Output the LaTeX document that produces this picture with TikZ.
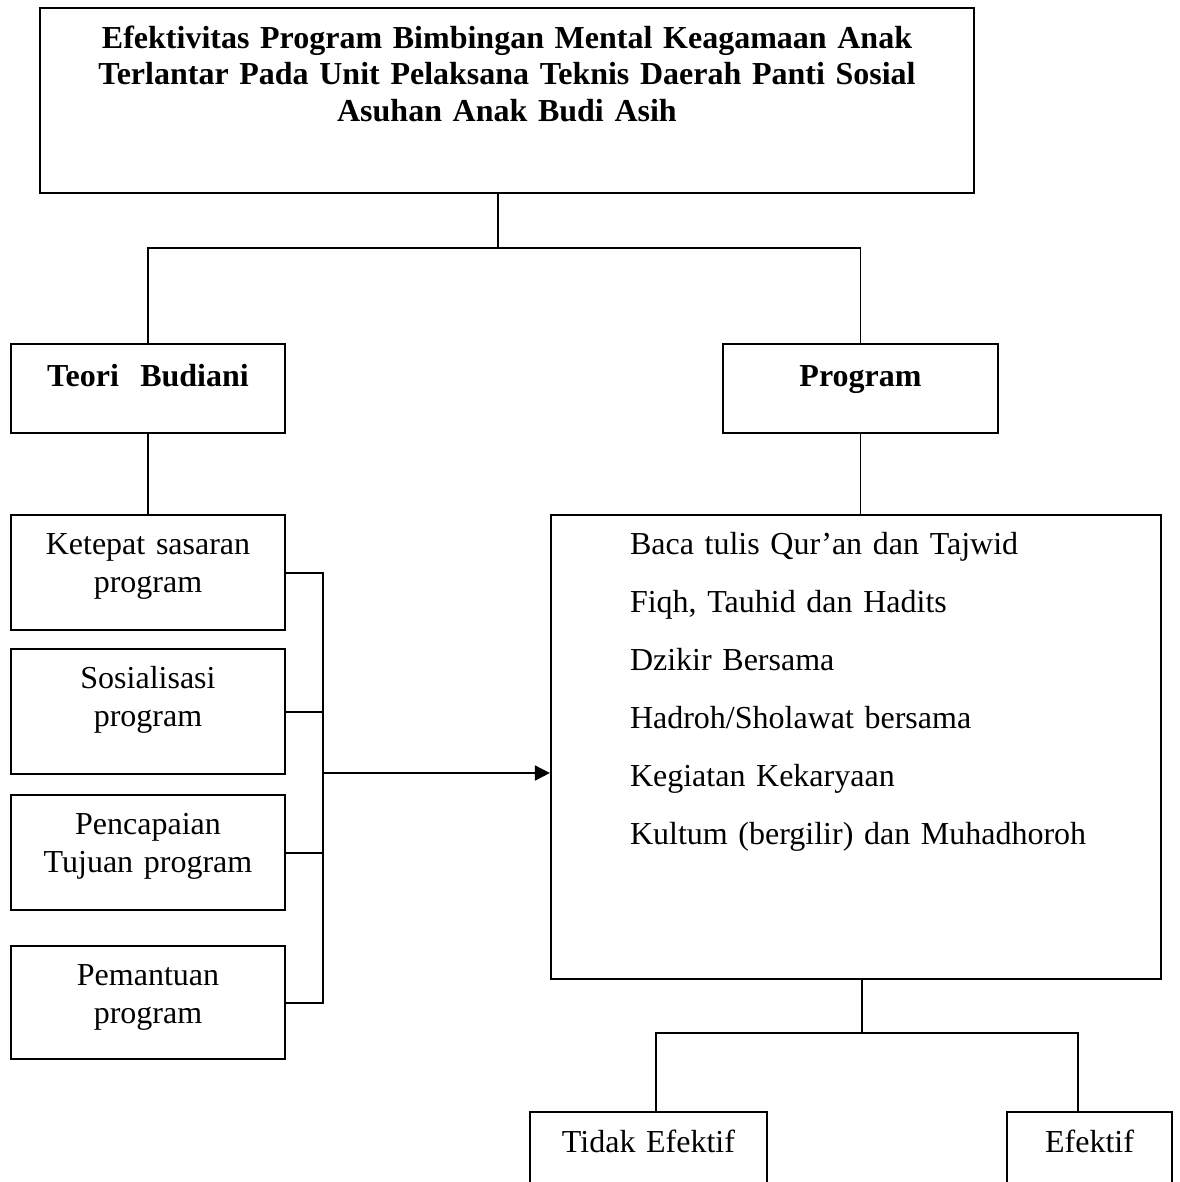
\documentclass[tikz,border=0pt]{standalone}
\usepackage{fontspec}
\setmainfont{Liberation Serif}
\usetikzlibrary{arrows.meta, positioning}

\begin{document}
\begin{tikzpicture}[x=0.5pt, y=-0.5pt,
    box/.style={draw, line width=1.1pt, inner sep=0pt, anchor=north, align=center, text width=137pt},
    conn/.style={line width=0.9pt}]
  \useasboundingbox (0,0) rectangle (1179,1182);
  \clip (0,0) rectangle (1179,1182);

  % Judul
  \node[box, text width=467pt, text height=20pt, text depth=72.5pt,
        font=\fontsize{16}{18.25}\selectfont\bfseries] (judul) at (507,7) {
    Efektivitas Program Bimbingan Mental Keagamaan Anak\\
    Terlantar Pada Unit Pelaksana Teknis Daerah Panti Sosial\\
    Asuhan Anak Budi Asih};

  % Teori dan program
  \node[box, text height=21pt, text depth=23.5pt, font=\fontsize{16}{19}\selectfont\bfseries] (teori) at (148,343) {Teori~~Budiani};
  \node[box, text width=137.5pt, text height=21pt, text depth=23.5pt, font=\fontsize{16}{19}\selectfont\bfseries] (program) at (860.5,343) {Program};

  % Indikator
  \node[box, text height=19.5pt, text depth=38pt, font=\fontsize{16}{19.25}\selectfont] (ketepat) at (148,514) {Ketepat sasaran\\program};
  \node[box, text height=19.5pt, text depth=43pt, font=\fontsize{16}{19.25}\selectfont] (sosialisasi) at (148,648) {Sosialisasi\\program};
  \node[box, text height=19.5pt, text depth=38pt, font=\fontsize{16}{19.25}\selectfont] (pencapaian) at (148,794) {Pencapaian\\Tujuan program};
  \node[box, text height=19.5pt, text depth=37pt, font=\fontsize{16}{19.25}\selectfont] (pemantuan) at (148,945) {Pemantuan\\program};

  % Kegiatan
  \node[box, align=left, inner xsep=39.5pt, text width=226pt, text height=19.5pt, text depth=212.5pt,
        font=\fontsize{16}{29}\selectfont] (kegiatan) at (856,514) {
    \mbox{Baca tulis Qur’an dan Tajwid}\\
    \mbox{Fiqh, Tauhid dan Hadits}\\
    \mbox{Dzikir Bersama}\\
    \mbox{Hadroh/Sholawat bersama}\\
    \mbox{Kegiatan Kekaryaan}\\
    \mbox{Kultum (bergilir) dan Muhadhoroh}};

  % Hasil
  \node[box, text width=118.5pt, text height=20pt, text depth=25pt, font=\fontsize{16}{19}\selectfont] (tidak) at (648.5,1111) {Tidak Efektif};
  \node[box, text width=82.5pt, text height=20pt, text depth=25pt, font=\fontsize{16}{19}\selectfont] (efektif) at (1089.5,1111) {Efektif};

  \coordinate (cabang) at (498,248);
  \coordinate (bus) at (323,773);
  \coordinate (hasil) at (862,1033);

  % Garis
  \draw[conn] (judul.south -| cabang) -- (cabang);
  \draw[conn] (teori.north) |- (cabang) -| (program.north);
  \draw[conn] (teori.south) -- (ketepat.north);
  \draw[conn] (program.south) -- (program.south |- kegiatan.north);
  \draw[conn] (ketepat.east) -| (bus |- pemantuan.east) -- (pemantuan.east);
  \draw[conn] (sosialisasi.east) -- (sosialisasi.east -| bus);
  \draw[conn] (pencapaian.east) -- (pencapaian.east -| bus);
  \draw[conn, -{Triangle[length=7.5pt, width=7.5pt]}] (bus) -- (bus -| kegiatan.west);
  \draw[conn] (kegiatan.south -| hasil) -- (hasil);
  \draw[conn] ([xshift=3.75pt]tidak.north) |- (hasil) -| ([xshift=-5.75pt]efektif.north);
\end{tikzpicture}
\end{document}
